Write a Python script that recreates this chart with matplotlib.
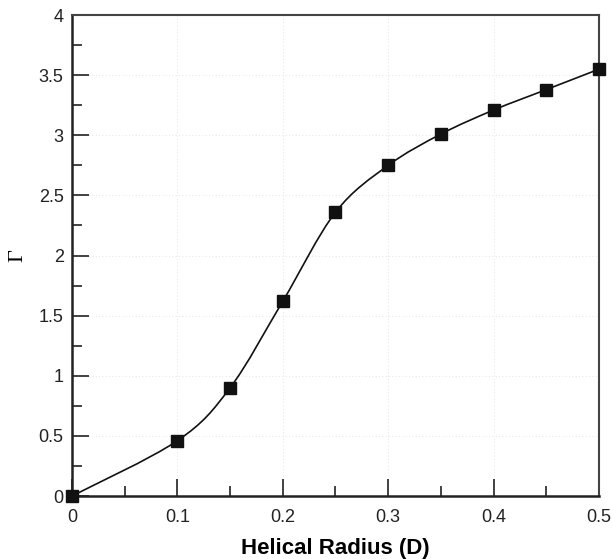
import numpy as np
import matplotlib
matplotlib.use("Agg")
import matplotlib.pyplot as plt
from matplotlib.path import Path
from matplotlib.patches import PathPatch
from matplotlib.ticker import MultipleLocator

# Helical radius (in diameters) and the circulation measured at each radius
radius = [0.0, 0.1, 0.15, 0.2, 0.25, 0.3, 0.35, 0.4, 0.45, 0.5]
gamma = [0.0, 0.46, 0.90, 1.62, 2.36, 2.75, 3.01, 3.21, 3.38, 3.55]

x_ticks = [0, 0.1, 0.2, 0.3, 0.4, 0.5]
x_tick_labels = ["0", "0.1", "0.2", "0.3", "0.4", "0.5"]
y_ticks = [0, 0.5, 1, 1.5, 2, 2.5, 3, 3.5, 4]
y_tick_labels = ["0", "0.5", "1", "1.5", "2", "2.5", "3", "3.5", "4"]

plt.rcParams["font.family"] = ["Liberation Sans", "DejaVu Sans"]

fig = plt.figure(figsize=(6.13, 5.59), dpi=100)
ax = fig.add_axes([0.1175, 0.1127, 0.8595, 0.8603])


def smooth_path(xs, ys):
    """Catmull-Rom curve through the points, expressed as cubic Bezier segments."""
    pts = np.column_stack([xs, ys])
    n = len(pts)
    verts = [pts[0]]
    codes = [Path.MOVETO]
    for i in range(n - 1):
        p0 = pts[i - 1] if i > 0 else pts[i]
        p1 = pts[i]
        p2 = pts[i + 1]
        p3 = pts[i + 2] if i + 2 < n else pts[i + 1]
        c1 = p1 + (p2 - p0) / 6.0
        c2 = p2 - (p3 - p1) / 6.0
        verts += [c1, c2, p2]
        codes += [Path.CURVE4] * 3
    return Path(verts, codes)


curve = PathPatch(smooth_path(radius, gamma), facecolor="none",
                  edgecolor="#111111", linewidth=1.2, zorder=3)
ax.add_patch(curve)
ax.plot(radius, gamma, linestyle="none", marker="s", markersize=8.6,
        color="#111111", clip_on=False, zorder=4)

ax.set_xlim(0, 0.5)
ax.set_ylim(0, 4)
ax.set_xticks(x_ticks)
ax.set_xticklabels(x_tick_labels)
ax.set_yticks(y_ticks)
ax.set_yticklabels(y_tick_labels)
ax.xaxis.set_minor_locator(MultipleLocator(0.05))
ax.yaxis.set_minor_locator(MultipleLocator(0.25))

ax.tick_params(which="major", direction="in", length=12, width=1.2,
               labelsize=13, top=False, right=False, colors="#222222")
ax.tick_params(axis="x", which="major", pad=9)
ax.tick_params(axis="y", which="major", pad=6)
ax.tick_params(which="minor", direction="in", length=7, width=1.2,
               top=False, right=False, colors="#222222")

ax.grid(True, which="major", linestyle=(0, (1, 3)), linewidth=0.6,
        color="#dddddd", zorder=0)

for side in ["left", "bottom"]:
    ax.spines[side].set_linewidth(1.8)
    ax.spines[side].set_color("#222222")
for side in ["top", "right"]:
    ax.spines[side].set_linewidth(1.5)
    ax.spines[side].set_color("#444444")

ax.set_xlabel("Helical Radius (D)", fontsize=16, fontweight="bold", labelpad=9)
ax.set_ylabel("Γ", fontsize=16, family=["Liberation Serif", "DejaVu Serif"], labelpad=8)

fig.savefig("out.png", dpi=100)
